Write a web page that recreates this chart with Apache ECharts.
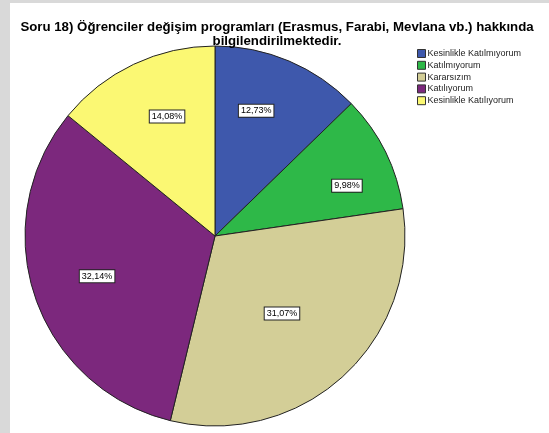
<!DOCTYPE html>
<html>
<head>
    <meta charset="UTF-8">
    <title>Soru 18</title>
    <script src="https://cdn.jsdelivr.net/npm/echarts@6/dist/echarts.min.js"></script>
</head>
<style>
    body{ margin:0; background:#d9d9d9; }
    #chart{
        position:absolute;
        left:10px;
        top:3px;
        width:539px;
        height:430px;
        background:#fff;
    }
</style>
<body>
<div id="chart"></div>
<script>
    var categories = ['Kesinlikle Katılmıyorum', 'Katılmıyorum', 'Kararsızım', 'Katılıyorum', 'Kesinlikle Katılıyorum'];
    var values = [12.73, 9.98, 31.07, 32.14, 14.08];
    var colors = ['#3e58ac', '#2eb848', '#d3ce97', '#7c287d', '#fbf873'];
    // label nudges (SPSS puts them at varying radii)
    var labelShift = [[3, -35], [44, -7], [1, 5], [-25, 9], [-6, -31]];

    var draw = echarts.init(document.getElementById('chart'));
    var option = {
        animation: false,
        title: {
            text: 'Soru 18) Öğrenciler değişim programları (Erasmus, Farabi, Mevlana vb.) hakkında\nbilgilendirilmektedir.',
            left: 262,
            top: 12,
            textAlign: 'center',
            textStyle: {
                fontFamily: 'Liberation Sans',
                fontSize: 13.25,
                fontWeight: 'bold',
                color: '#000',
                lineHeight: 14
            }
        },
        legend: {
            orient: 'vertical',
            left: 402,
            top: 41,
            itemWidth: 8,
            itemHeight: 8,
            itemGap: 2.8,
            icon: 'rect',
            itemStyle: { borderColor: '#333', borderWidth: 1 },
            textStyle: { fontFamily: 'Liberation Sans', fontSize: 9, color: '#222', padding: [0, 0, 0, -3] },
            data: categories
        },
        color: colors,
        series: [{
            type: 'pie',
            center: [205, 233],
            radius: 190,
            startAngle: 90,
            clockwise: true,
            avoidLabelOverlap: false,
            itemStyle: { borderColor: '#222', borderWidth: 1 },
            emphasis: { disabled: true },
            label: {
                position: 'inside',
                formatter: function (p) { return p.value.toFixed(2).replace('.', ',') + '%'; },
                fontFamily: 'Liberation Sans',
                fontSize: 9,
                color: '#000',
                backgroundColor: '#fff',
                borderColor: '#222',
                borderWidth: 1,
                padding: [2, 2, 1, 2]
            },
            labelLayout: function (p) {
                var s = labelShift[p.dataIndex];
                return { dx: s[0], dy: s[1] };
            },
            data: categories.map(function (c, i) { return { name: c, value: values[i] }; })
        }]
    };
    draw.setOption(option);
</script>
</body>
</html>
